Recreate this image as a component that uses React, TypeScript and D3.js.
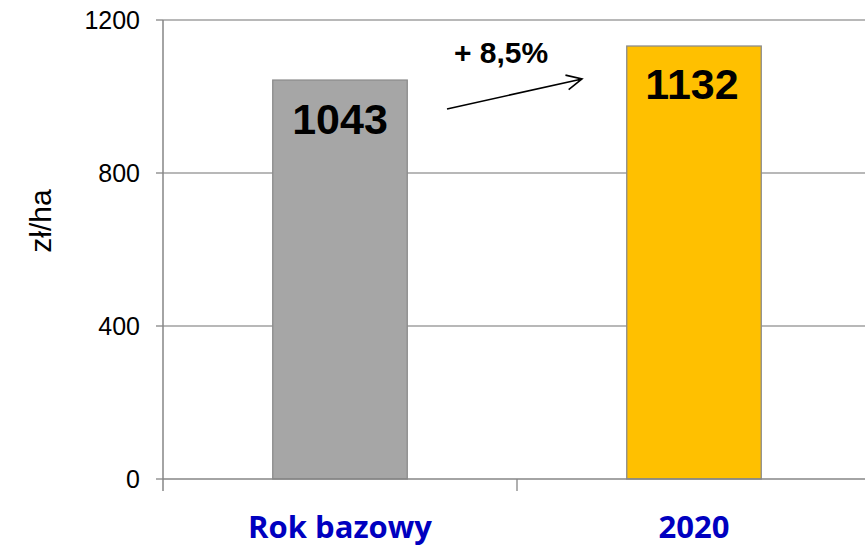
import React from "react";
import * as d3 from "d3";

const categories = ["Rok bazowy", "2020"];
const values = [1043, 1132];
const yTicks = [0, 400, 800, 1200];
const barColors = ["#A6A6A6", "#FFC000"];
const changeLabel = "+ 8,5%";
const yTitle = "zł/ha";

export default function App() {
  const W = 865, H = 545;
  const left = 163, right = 871, top = 20, bottom = 479;
  const x = d3.scaleBand<string>().domain(categories).range([left, right]).paddingInner(0.62).paddingOuter(0.31);
  const band = d3.scaleBand<string>().domain(categories).range([left, right]);
  const y = d3.scaleLinear().domain([0, 1200]).range([bottom, top]);
  const a0 = [447, 109];
  const a1 = [582, 79];
  const ang = Math.atan2(a1[1] - a0[1], a1[0] - a0[0]);
  const hl = 17, ha = 0.45;
  const h1 = [a1[0] - hl * Math.cos(ang - ha), a1[1] - hl * Math.sin(ang - ha)];
  const h2 = [a1[0] - hl * Math.cos(ang + ha), a1[1] - hl * Math.sin(ang + ha)];
  return (
    <svg width={W} height={H} style={{ position: "absolute", left: 0, top: 0 }}>
      <rect width={W} height={H} fill="#fff" />
      {yTicks.filter(t => t > 0).map(t => (
        <line key={t} x1={left} x2={W} y1={y(t)} y2={y(t)} stroke="#A0A0A0" strokeWidth={1.3} />
      ))}
      {yTicks.map(t => (
        <g key={"t" + t}>
          <line x1={156} x2={left} y1={y(t)} y2={y(t)} stroke="#868686" strokeWidth={1.3} />
          <text x={140} y={y(t) + 9} textAnchor="end" fontFamily="Liberation Sans, Arial" fontSize={25} fill="#000">{t}</text>
        </g>
      ))}
      {categories.map((c, i) => (
        <g key={c}>
          <rect x={x(c)!} y={y(values[i])} width={x.bandwidth()} height={bottom - y(values[i])} fill={barColors[i]} stroke="#8C8C8C" strokeWidth={1.3} />
        </g>
      ))}
      <line x1={left} x2={left} y1={top} y2={491} stroke="#868686" strokeWidth={1.5} />
      <line x1={left} x2={W} y1={bottom} y2={bottom} stroke="#868686" strokeWidth={1.5} />
      {categories.map(c => (
        <line key={"xt" + c} x1={band(c)! + band.bandwidth()} x2={band(c)! + band.bandwidth()} y1={bottom} y2={491} stroke="#868686" strokeWidth={1.3} />
      ))}
      <text x={340} y={134} textAnchor="middle" fontFamily="Liberation Sans, Arial" fontWeight="bold" fontSize={43}>{values[0]}</text>
      <text x={692} y={99} textAnchor="middle" fontFamily="Liberation Sans, Arial" fontWeight="bold" fontSize={43}>{values[1]}</text>
      <text x={501} y={63} textAnchor="middle" fontFamily="Liberation Sans, Arial" fontWeight="bold" fontSize={30}>{changeLabel}</text>
      <path d={`M${a0[0]},${a0[1]}L${a1[0]},${a1[1]}M${h1[0]},${h1[1]}L${a1[0]},${a1[1]}L${h2[0]},${h2[1]}`} fill="none" stroke="#000" strokeWidth={1.6} />
      {categories.map(c => (
        <text key={"xl" + c} x={x(c)! + x.bandwidth() / 2} y={538} textAnchor="middle" fontFamily="Open Sans" fontWeight="bold" fontSize={31} fill="#0000C0">{c}</text>
      ))}
      <text transform="translate(51,221) rotate(-90)" textAnchor="middle" fontFamily="Liberation Sans, Arial" fontSize={30}>{yTitle}</text>
    </svg>
  );
}
